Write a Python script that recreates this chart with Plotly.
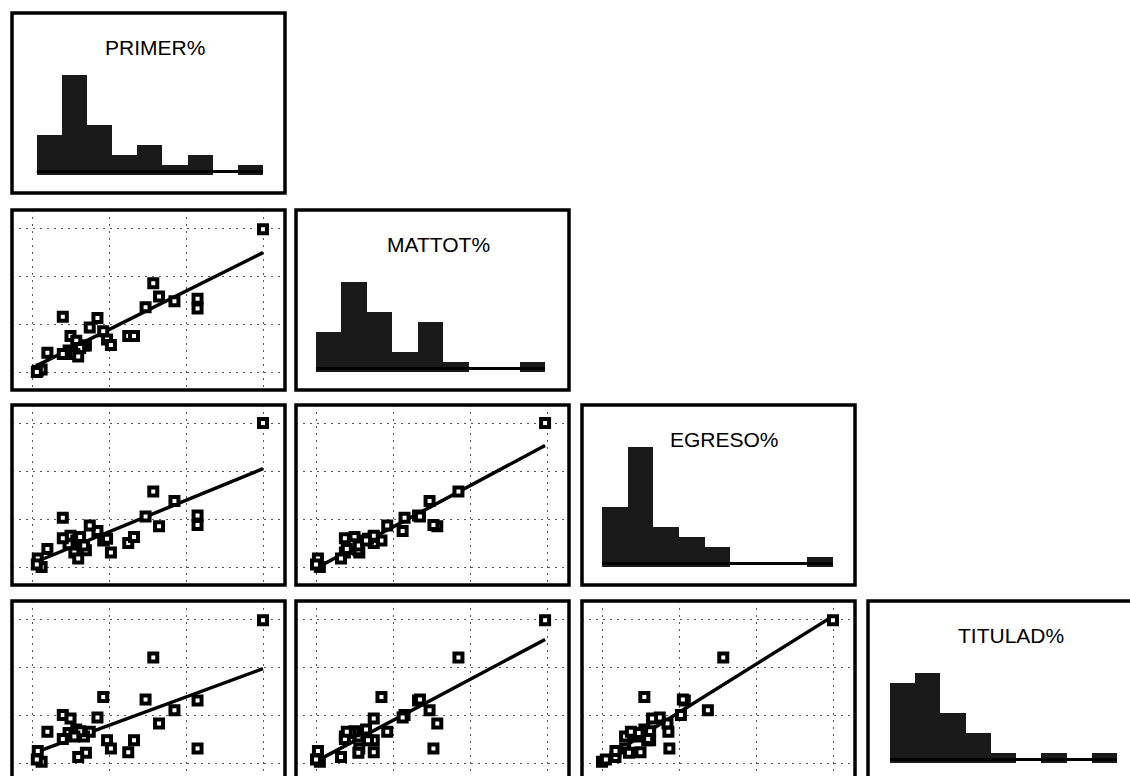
import numpy as np
import plotly.graph_objects as go

# ---------------- data ----------------
names = ["PRIMER%", "MATTOT%", "EGRESO%", "TITULAD%"]

primer = [12.0, 6.3, 6.6, 7.4, 8.6, 8.6, 5.9, 1.6, 3.4, 3.0, 3.7, 5.0, 5.3, 3.9,
          4.1, 2.8, 2.7, 2.0, 2.3, 2.5, 1.9, 2.2, 2.4, 1.6, 0.8, 0.3, 0.5, 0.25]
mattot = [11.9, 7.4, 6.3, 5.9, 6.1, 5.3, 5.4, 4.6, 4.5, 3.7, 3.4, 3.0, 3.0, 2.7,
          2.25, 2.2, 2.2, 3.0, 2.6, 2.0, 1.8, 1.5, 1.3, 1.5, 1.6, 0.1, 0.2, 0.0]
egreso = [12.0, 6.3, 3.4, 5.5, 3.5, 4.3, 4.2, 4.1, 3.0, 3.45, 2.2, 2.0, 2.5, 2.35,
          1.2, 1.4, 1.8, 2.6, 2.2, 2.5, 1.9, 1.2, 0.7, 2.4, 1.5, 0.7, 0.0, 0.2]
titulad = [11.9, 8.8, 3.3, 4.4, 1.2, 5.2, 5.3, 4.0, 3.8, 2.6, 5.5, 0.9, 1.9, 1.9,
           1.2, 0.85, 2.2, 3.7, 2.8, 2.65, 2.5, 2.2, 0.5, 2.0, 2.6, 1.0, 0.1, 0.3]

variables = [primer, mattot, egreso, titulad]
grid_ticks = [0, 4, 8, 12]
n_bins = 9

# ---------------- geometry (pixels in the 1130x776 window) ----------------
W, H = 1130, 776
col_left = [12, 296, 582, 868]
row_top = [13, 210, 405, 601]
cell_w, cell_h = 273, 180
x_zero_off = 20        # px from cell left to value 0
x_scale = 19.25        # px per unit
y_zero_off = 162       # px from cell top to value 0
y_scale = 12.0         # px per unit (scatter)
h_scale = 10.0         # px per count (histogram)

FONT = "Liberation Sans, Arial, sans-serif"


def fx(p):
    return p / W


def fy(p):
    return 1 - p / H


fig = go.Figure()
layout = {}
shapes = []
annotations = []

ax = 0
for r in range(4):
    for c in range(r + 1):
        ax += 1
        xa = "x" if ax == 1 else f"x{ax}"
        ya = "y" if ax == 1 else f"y{ax}"
        xkey = "xaxis" if ax == 1 else f"xaxis{ax}"
        ykey = "yaxis" if ax == 1 else f"yaxis{ax}"

        left = col_left[c]
        right_vis = min(left + cell_w, W)
        top = row_top[r]
        bot_vis = min(top + cell_h, H)

        x0v = -x_zero_off / x_scale
        x1v = (right_vis - (left + x_zero_off)) / x_scale
        zero_px = top + y_zero_off
        sc = h_scale if r == c else y_scale
        y0v = (zero_px - bot_vis) / sc
        y1v = (zero_px - top) / sc

        is_scatter = r != c
        common = dict(showticklabels=False, ticks="", zeroline=False,
                      showline=False, fixedrange=True)
        layout[xkey] = dict(domain=[fx(left), fx(right_vis)], range=[x0v, x1v],
                            anchor=ya, showgrid=is_scatter, tickvals=grid_ticks,
                            gridcolor="#555555", gridwidth=1, griddash="2px,5px",
                            **common)
        layout[ykey] = dict(domain=[fy(bot_vis), fy(top)], range=[y0v, y1v],
                            anchor=xa, showgrid=is_scatter, tickvals=grid_ticks,
                            gridcolor="#555555", gridwidth=1, griddash="2px,5px",
                            **common)

        # frame of the cell
        shapes.append(dict(type="rect", xref="paper", yref="paper",
                           x0=fx(left), x1=fx(left + cell_w),
                           y0=fy(top + cell_h), y1=fy(top),
                           line=dict(color="black", width=3.5), layer="above"))

        if is_scatter:
            xv = np.array(variables[c], dtype=float)
            yv = np.array(variables[r], dtype=float)
            b1, b0 = np.polyfit(xv, yv, 1)
            xl = np.array([xv.min(), xv.max()])
            fig.add_trace(go.Scatter(x=xl, y=b0 + b1 * xl, mode="lines",
                                     line=dict(color="black", width=3.5),
                                     xaxis=xa, yaxis=ya, hoverinfo="skip"))
            fig.add_trace(go.Scatter(x=xv, y=yv, mode="markers",
                                     marker=dict(symbol="square", size=8, color="white",
                                                 line=dict(color="black", width=4)),
                                     xaxis=xa, yaxis=ya))
        else:
            v = np.array(variables[r], dtype=float)
            vmin, vmax = v.min(), v.max()
            size = (vmax - vmin) / n_bins * (1 + 1e-6)
            # baseline drawn where bins are empty
            fig.add_trace(go.Scatter(x=[vmin, vmax], y=[0.35, 0.35], mode="lines",
                                     line=dict(color="black", width=3),
                                     xaxis=xa, yaxis=ya, hoverinfo="skip"))
            fig.add_trace(go.Histogram(
                x=v, xbins=dict(start=vmin, end=vmin + n_bins * size, size=size),
                marker=dict(color="#1a1a1a", line=dict(width=0)),
                xaxis=xa, yaxis=ya))
            annotations.append(dict(text=names[r], xref="paper", yref="paper",
                                    x=fx(left + cell_w / 2 + 6),
                                    y=fy(top + 34),
                                    xanchor="center", yanchor="middle",
                                    showarrow=False,
                                    font=dict(family=FONT, size=21, color="black")))

fig.update_layout(
    width=W, height=H,
    margin=dict(l=0, r=0, t=0, b=0),
    paper_bgcolor="white", plot_bgcolor="white",
    template="none",
    showlegend=False,
    bargap=0,
    hovermode=False,
    shapes=shapes,
    annotations=annotations,
    font=dict(family=FONT),
    **layout,
)

fig.write_html("out.html",
               config={"displayModeBar": False, "staticPlot": True},
               post_script="document.body.style.margin='0';"
                           "document.body.style.overflow='hidden';")
